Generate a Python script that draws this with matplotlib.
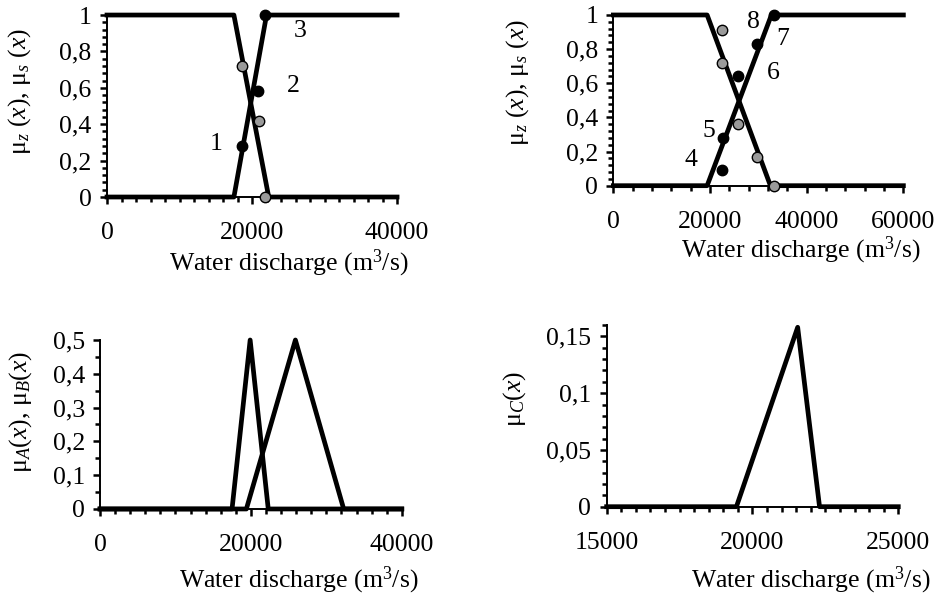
import matplotlib
matplotlib.use("Agg")
import matplotlib.pyplot as plt
from matplotlib.ticker import MultipleLocator, FuncFormatter

plt.rcParams['font.family'] = ['Liberation Serif', 'DejaVu Serif']
plt.rcParams['mathtext.fontset'] = 'custom'
plt.rcParams['mathtext.rm'] = 'Liberation Serif'
plt.rcParams['mathtext.it'] = 'Liberation Serif:italic'

# ---- data ----
# panel 1
x_z1 = [0, 17500, 22300, 40000]
mu_z1 = [1, 1, 0, 0]
x_s1 = [0, 17500, 22000, 40000]
mu_s1 = [0, 0, 1, 1]
pts1_xb = [18600, 20800, 21850]
pts1_s = [0.28, 0.58, 1.0]
pts1_xg = [18600, 21000, 21850]
pts1_z = [0.72, 0.42, 0.0]
lab1 = ['1', '2', '3']
lab1_x = [15100, 25700, 26700]
lab1_y = [0.29, 0.61, 0.91]

# panel 2
x_z2 = [0, 19400, 32500, 60000]
mu_z2 = [1, 1, 0, 0]
x_s2 = [0, 19400, 32700, 60000]
mu_s2 = [0, 0, 1, 1]
pts2_xb = [22400, 22600, 25850, 29650, 33300]
pts2_s = [0.09, 0.28, 0.64, 0.83, 1.0]
pts2_xg = [22400, 22550, 25850, 29750, 33250]
pts2_z = [0.91, 0.72, 0.36, 0.17, 0.0]
lab2 = ['4', '5', '6', '7', '8']
lab2_x = [16000, 19850, 33100, 35000, 29000]
lab2_y = [0.15, 0.32, 0.66, 0.86, 0.96]

# panel 3
x_A = [0, 17500, 19900, 22300, 40000]
mu_A = [0, 0, 0.5, 0, 0]
x_B = [0, 19400, 25900, 32300, 40000]
mu_B = [0, 0, 0.5, 0, 0]

# panel 4
x_C = [15000, 19450, 21550, 22300, 25000]
mu_C = [0, 0, 0.158, 0, 0]

FS = 18.5
LW = 3.4
GRAY = '#9a9a9a'
MS = 7.5

fig = plt.figure(figsize=(9.42, 5.99), dpi=100)

def comma(v, pos):
    if abs(v - round(v)) < 1e-9:
        return '%d' % round(v)
    s = ('%.2f' % v).rstrip('0')
    return s.replace('.', ',')

def style(ax, xlim, ylim, xmaj, xmin, ymaj, ymin):
    ax.set_xlim(*xlim)
    ax.set_ylim(*ylim)
    for s in ['top', 'right']:
        ax.spines[s].set_visible(False)
    for s in ['left', 'bottom']:
        ax.spines[s].set_linewidth(1.4)
    ax.xaxis.set_major_locator(MultipleLocator(xmaj))
    ax.xaxis.set_minor_locator(MultipleLocator(xmin))
    ax.yaxis.set_major_locator(MultipleLocator(ymaj))
    ax.yaxis.set_minor_locator(MultipleLocator(ymin))
    ax.xaxis.set_major_formatter(FuncFormatter(lambda v, p: '%d' % round(v)))
    ax.yaxis.set_major_formatter(FuncFormatter(comma))
    ax.tick_params(which='major', direction='out', length=5, width=1.8, labelsize=FS)
    ax.tick_params(which='minor', direction='out', length=3.5, width=1.8)
    ax.tick_params(axis='x', which='major', pad=13)
    ax.tick_params(axis='y', which='major', pad=6)

def xlab(ax, x, y):
    ax.set_xlabel('Water discharge (m$^{3}$/s)', fontsize=FS)
    ax.xaxis.set_label_coords(x, y)
    ax.xaxis.label.set_va('center')

def ylab(ax, text, x, y):
    ax.set_ylabel(text, fontsize=FS)
    ax.yaxis.set_label_coords(x, y)
    ax.yaxis.label.set_va('center')

# Panel 1
ax1 = fig.add_axes([0.1136, 0.6711, 0.3079, 0.3038])
style(ax1, (0, 40000), (0, 1), 20000, 2000, 0.2, 0.04)
ax1.plot(x_z1, mu_z1, color='black', lw=LW, clip_on=False, zorder=3)
ax1.plot(x_s1, mu_s1, color='black', lw=LW, clip_on=False, zorder=3)
ax1.plot(pts1_xg, pts1_z, 'o', ms=MS, mfc=GRAY, mec='black', mew=1.0, clip_on=False, zorder=4)
ax1.plot(pts1_xb, pts1_s, 'o', ms=MS, mfc='black', mec='black', clip_on=False, zorder=4)
for t, x, y in zip(lab1, lab1_x, lab1_y):
    ax1.text(x, y, t, fontsize=FS, ha='center', va='center')
xlab(ax1, 0.628, -0.363)
ylab(ax1, 'μ$_{z}$ ($x$), μ$_{s}$ ($x$)', -0.30, 0.577)

# Panel 2
ax2 = fig.add_axes([0.6511, 0.6900, 0.3079, 0.2850])
style(ax2, (0, 60000), (0, 1), 20000, 4000, 0.2, 0.04)
ax2.plot(x_z2, mu_z2, color='black', lw=LW, clip_on=False, zorder=3)
ax2.plot(x_s2, mu_s2, color='black', lw=LW, clip_on=False, zorder=3)
ax2.plot(pts2_xg, pts2_z, 'o', ms=MS, mfc=GRAY, mec='black', mew=1.0, clip_on=False, zorder=4)
ax2.plot(pts2_xb, pts2_s, 'o', ms=MS, mfc='black', mec='black', clip_on=False, zorder=4)
for t, x, y in zip(lab2, lab2_x, lab2_y):
    ax2.text(x, y, t, fontsize=FS, ha='center', va='center')
xlab(ax2, 0.647, -0.377)
ylab(ax2, 'μ$_{z}$ ($x$), μ$_{s}$ ($x$)', -0.331, 0.607)

# Panel 3
ax3 = fig.add_axes([0.1062, 0.1503, 0.3203, 0.2821])
style(ax3, (0, 40000), (0, 0.5), 20000, 2000, 0.1, 0.05)
ax3.plot(x_A, mu_A, color='black', lw=LW, clip_on=False, zorder=3)
ax3.plot(x_B, mu_B, color='black', lw=LW, clip_on=False, zorder=3)
xlab(ax3, 0.66, -0.42)
ylab(ax3, 'μ$_{A}$($x$), μ$_{B}$($x$)', -0.265, 0.574)

# Panel 4
ax4 = fig.add_axes([0.6440, 0.1541, 0.3096, 0.3033])
style(ax4, (15000, 25000), (0, 0.16), 5000, 500, 0.05, 0.01)
ax4.plot(x_C, mu_C, color='black', lw=LW, clip_on=False, zorder=3)
xlab(ax4, 0.70, -0.403)
ylab(ax4, 'μ$_{C}$($x$)', -0.314, 0.593)

fig.savefig('out.png', dpi=100)
